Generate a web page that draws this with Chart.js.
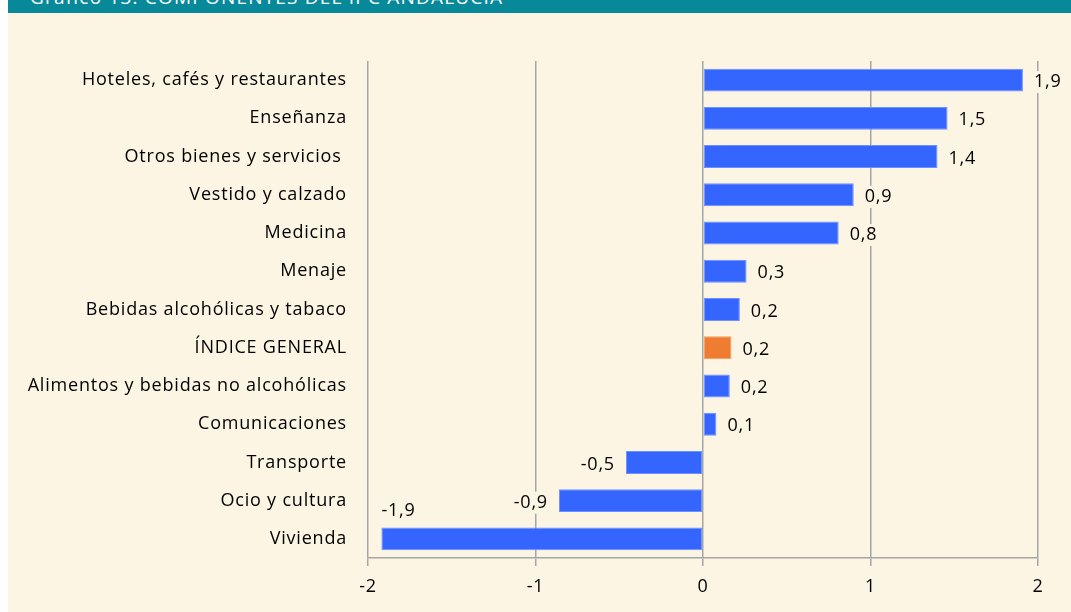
<!DOCTYPE html>
<html>
<head>
<meta charset="utf-8">
<script src="https://cdn.jsdelivr.net/npm/chart.js@4.4.1/dist/chart.umd.min.js"></script>
<style>
  html, body { margin: 0; padding: 0; background: #ffffff; }
  #fondo { position: absolute; left: 8px; top: 0; width: 1063px; height: 612px; background: #fdf5e3; }
  #cabecera { position: absolute; left: 8px; top: 0; width: 1063px; height: 13px; background: #07899a; overflow: hidden; }
  #cabecera span { position: absolute; left: 22px; top: -16px; color: #ffffff; font: 19px "Open Sans", sans-serif; letter-spacing: 1.2px; white-space: nowrap; }
  #lienzo { position: absolute; left: 0; top: 0; }
</style>
</head>
<body>
<div id="fondo"></div>
<div id="cabecera"><span>Gráfico 13. COMPONENTES DEL IPC ANDALUCÍA</span></div>
<canvas id="lienzo" width="1071" height="612"></canvas>
<script>
// categorías (de arriba a abajo)
const categorias = [
  "Hoteles, cafés y restaurantes",
  "Enseñanza",
  "Otros bienes y servicios ",
  "Vestido y calzado",
  "Medicina",
  "Menaje",
  "Bebidas alcohólicas y tabaco",
  "ÍNDICE GENERAL",
  "Alimentos y bebidas no alcohólicas",
  "Comunicaciones",
  "Transporte",
  "Ocio y cultura",
  "Vivienda"
];

// variación en puntos
const valores = [1.91, 1.46, 1.40, 0.90, 0.81, 0.26, 0.22, 0.17, 0.16, 0.08, -0.46, -0.86, -1.92];

// etiquetas del eje x
const ticksX = [-2, -1, 0, 1, 2];

const AZUL = '#3466ff';
const NARANJA = '#ee7d31';
const FUENTE = '"Open Sans", sans-serif';
const TAM = 18;
const ESPACIADO = '0.8px';

const colores = categorias.map(c => c === "ÍNDICE GENERAL" ? NARANJA : AZUL);

// el texto del original sale algo espaciado
const espaciado = {
  id: 'espaciado',
  beforeLayout(chart) { chart.ctx.letterSpacing = ESPACIADO; },
  beforeDraw(chart) { chart.ctx.letterSpacing = ESPACIADO; }
};

// etiquetas de datos con fondo crema, como en el original
const etiquetasDatos = {
  id: 'etiquetasDatos',
  afterDatasetsDraw(chart) {
    const ctx = chart.ctx;
    const meta = chart.getDatasetMeta(0);
    ctx.save();
    ctx.letterSpacing = ESPACIADO;
    ctx.font = TAM + 'px ' + FUENTE;
    ctx.textBaseline = 'middle';
    meta.data.forEach((barra, i) => {
      const v = valores[i];
      const txt = v.toFixed(1).replace('.', ',');
      const w = ctx.measureText(txt).width;
      let x, y = barra.y + 2;
      if (v >= 0) {
        x = barra.x + 11;
      } else {
        x = barra.x - 11 - w;
        if (x < chart.chartArea.left) {
          x = barra.x;
          y = barra.y - 28;
        }
      }
      ctx.fillStyle = '#fdf5e3';
      ctx.fillRect(x - 2, y - 11, w + 4, 22);
      ctx.fillStyle = '#000000';
      ctx.textAlign = 'left';
      ctx.fillText(txt, x, y);
    });
    ctx.restore();
  }
};

new Chart(document.getElementById('lienzo'), {
  type: 'bar',
  data: {
    labels: categorias,
    datasets: [{
      data: valores,
      backgroundColor: colores,
      borderColor: colores.map(c => c === AZUL ? '#6d90ff' : '#f29a5e'),
      borderWidth: 1,
      borderSkipped: false,
      barPercentage: 0.6,
      categoryPercentage: 1
    }]
  },
  options: {
    indexAxis: 'y',
    responsive: false,
    animation: false,
    layout: { padding: { top: 61, right: 33, left: 0, bottom: 0 } },
    plugins: {
      legend: { display: false },
      tooltip: { enabled: false }
    },
    scales: {
      x: {
        min: -2,
        max: 2,
        afterBuildTicks(scale) {
          scale.ticks = ticksX.map(v => ({ value: v }));
        },
        afterFit(scale) { scale.height = 54; },
        grid: {
          color: '#a6a6a6',
          lineWidth: 1.5,
          drawTicks: true,
          tickLength: 8
        },
        border: { display: true, color: '#a6a6a6', width: 1.5 },
        ticks: {
          color: '#000000',
          font: { family: FUENTE, size: TAM },
          padding: 10,
          callback: v => String(v)
        }
      },
      y: {
        afterFit(scale) { scale.width = 368; },
        grid: { display: false, drawTicks: false },
        border: { display: false },
        ticks: {
          color: '#000000',
          font: { family: FUENTE, size: TAM },
          padding: 21,
          autoSkip: false
        }
      }
    }
  },
  plugins: [espaciado, etiquetasDatos]
});
</script>
</body>
</html>
